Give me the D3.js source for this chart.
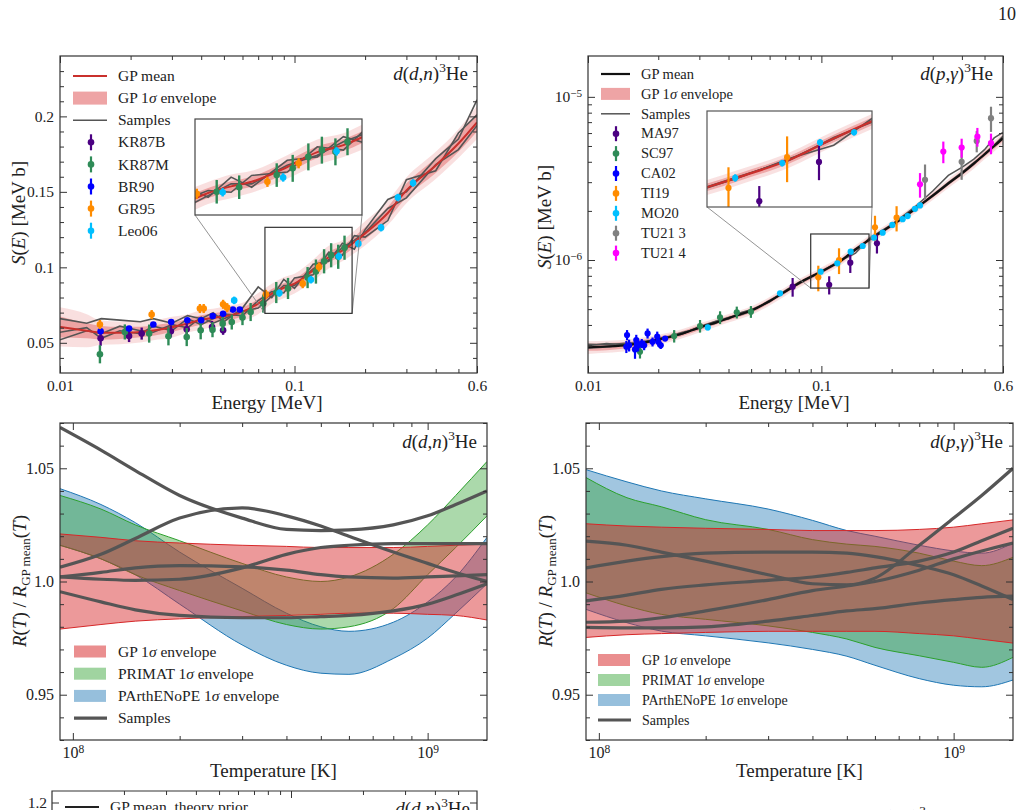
<!DOCTYPE html>
<html>
<head>
<meta charset="utf-8">
<script src="https://cdn.jsdelivr.net/npm/d3@7"></script>
<style>
  body { margin: 0; background: #fff; }
  svg { display: block; }
  svg text { font-family: 'Liberation Serif', 'DejaVu Serif', serif; }
</style>
</head>
<body>
<svg id="fig" width="1024" height="810"></svg>
<script>
// ---------- d(d,n)3He : S-factor [MeV b] vs energy [MeV] (top left) ----------
const ddnE = [0.01, 0.013, 0.015, 0.018, 0.022, 0.025, 0.03, 0.035, 0.04, 0.045, 0.05, 0.06, 0.07, 0.08, 0.09, 0.1, 0.12, 0.14, 0.16, 0.18, 0.2, 0.25, 0.3, 0.4, 0.5, 0.6];
const ddnMean = [0.0605, 0.058, 0.0567, 0.0566, 0.0572, 0.0582, 0.0603, 0.0628, 0.0652, 0.0665, 0.0675, 0.0705, 0.076, 0.0826, 0.0865, 0.0892, 0.098, 0.1068, 0.111, 0.1168, 0.1225, 0.136, 0.151, 0.1675, 0.182, 0.196];
const ddnInner = [0.007, 0.005, 0.0045, 0.004, 0.0035, 0.0035, 0.003, 0.003, 0.003, 0.003, 0.003, 0.003, 0.003, 0.003, 0.003, 0.003, 0.0035, 0.0035, 0.0035, 0.0035, 0.004, 0.004, 0.0045, 0.005, 0.0055, 0.006];
const ddnOuter = [0.013, 0.011, 0.008, 0.0075, 0.007, 0.0065, 0.007, 0.006, 0.0065, 0.006, 0.0065, 0.006, 0.007, 0.0065, 0.007, 0.0065, 0.007, 0.0075, 0.007, 0.0075, 0.008, 0.008, 0.0085, 0.009, 0.0095, 0.011];
const ddnSampA = [0.066, 0.063, 0.066, 0.065, 0.064, 0.066, 0.063, 0.068, 0.066, 0.070, 0.064, 0.073, 0.087, 0.080, 0.092, 0.086, 0.102, 0.104, 0.116, 0.112, 0.125, 0.145, 0.150, 0.172, 0.185, 0.211];
const ddnSampB = [0.057, 0.060, 0.053, 0.058, 0.056, 0.061, 0.058, 0.066, 0.062, 0.066, 0.069, 0.068, 0.078, 0.084, 0.083, 0.093, 0.095, 0.110, 0.108, 0.121, 0.120, 0.131, 0.158, 0.164, 0.189, 0.201];
const ddnSampC = [0.052, 0.058, 0.056, 0.061, 0.058, 0.057, 0.062, 0.060, 0.067, 0.063, 0.066, 0.071, 0.073, 0.081, 0.088, 0.088, 0.099, 0.105, 0.113, 0.118, 0.123, 0.139, 0.146, 0.168, 0.178, 0.194];

const kr87bE = [0.0149, 0.0197, 0.0223, 0.0297, 0.0347, 0.0445, 0.0496];
const kr87bS = [0.053, 0.0545, 0.0561, 0.0576, 0.059, 0.0605, 0.0583];
const kr87bErr = [0.005, 0.004, 0.004, 0.004, 0.004, 0.004, 0.003];
const kr87mE = [0.0148, 0.0189, 0.024, 0.029, 0.0347, 0.0398, 0.0447, 0.0494, 0.054, 0.060, 0.065, 0.0736, 0.0836, 0.0938, 0.1137, 0.1234, 0.1337, 0.1433, 0.1536, 0.1634];
const kr87mS = [0.0424, 0.0572, 0.0561, 0.0543, 0.0538, 0.0583, 0.0587, 0.0627, 0.0638, 0.0667, 0.0704, 0.076, 0.0833, 0.086, 0.0932, 0.0972, 0.104, 0.108, 0.107, 0.113];
const kr87mErr = [0.006, 0.005, 0.006, 0.006, 0.006, 0.006, 0.005, 0.005, 0.005, 0.005, 0.006, 0.006, 0.007, 0.007, 0.007, 0.008, 0.008, 0.008, 0.008, 0.008];
const br90E = [0.0149, 0.0197, 0.025, 0.0298, 0.0349, 0.04, 0.0448, 0.0496, 0.0546, 0.0584];
const br90S = [0.0576, 0.0594, 0.0621, 0.0638, 0.0649, 0.0649, 0.0678, 0.0693, 0.072, 0.072];
const br90Err = [0.0015, 0.0015, 0.0015, 0.0015, 0.0015, 0.0015, 0.0015, 0.0015, 0.0015, 0.0015];
const gr95E = [0.0148, 0.0246, 0.0395, 0.041, 0.0496, 0.0516, 0.0755, 0.1084, 0.1272];
const gr95S = [0.0621, 0.0687, 0.0727, 0.0727, 0.0755, 0.0733, 0.0821, 0.0892, 0.1002];
const gr95Err = [0.003, 0.003, 0.003, 0.003, 0.003, 0.003, 0.003, 0.003, 0.003];
const leo06E = [0.0553, 0.0862, 0.1175, 0.1545, 0.1872, 0.2339, 0.276, 0.3203];
const leo06S = [0.0781, 0.0830, 0.0918, 0.1073, 0.1157, 0.1263, 0.1462, 0.1559];
const leo06Err = [0.0025, 0.0025, 0.0025, 0.0025, 0.0025, 0.0025, 0.0025, 0.0025];

// ---------- d(p,g)3He : S-factor, values in units of 1e-7 MeV b (top right) ----------
const UNIT = 1e-7;
const dpgE = [0.01, 0.012, 0.015, 0.018, 0.02, 0.025, 0.03, 0.035, 0.04, 0.045, 0.05, 0.06, 0.07, 0.08, 0.1, 0.12, 0.14, 0.16, 0.2, 0.25, 0.3, 0.35, 0.4, 0.45, 0.5, 0.55, 0.6];
const dpgMean = [2.92, 2.95, 3.02, 3.15, 3.25, 3.52, 3.85, 4.12, 4.4, 4.65, 4.9, 5.6, 6.4, 7.2, 8.5, 9.8, 11.6, 13.3, 16.3, 20.4, 24.8, 29.5, 34.0, 39.0, 44.5, 50.0, 55.8];
const dpgInnerFrac = [0.05, 0.05, 0.045, 0.04, 0.04, 0.035, 0.035, 0.03, 0.03, 0.03, 0.03, 0.03, 0.03, 0.03, 0.03, 0.03, 0.03, 0.03, 0.03, 0.03, 0.03, 0.03, 0.03, 0.035, 0.035, 0.04, 0.04];
const dpgOuterFrac = [0.09, 0.085, 0.08, 0.075, 0.07, 0.065, 0.065, 0.06, 0.06, 0.06, 0.06, 0.06, 0.06, 0.06, 0.06, 0.06, 0.06, 0.06, 0.06, 0.06, 0.06, 0.065, 0.065, 0.07, 0.07, 0.075, 0.08];
const dpgSampA = [3.05, 3.02, 3.1, 3.12, 3.3, 3.5, 3.9, 4.2, 4.35, 4.75, 4.95, 5.55, 6.5, 7.3, 8.45, 9.9, 11.0, 13.6, 16.5, 21.0, 26.5, 33.0, 37.0, 41.5, 47.5, 56.0, 60.5];
const dpgSampB = [2.98, 3.08, 3.0, 3.2, 3.22, 3.58, 3.82, 4.18, 4.45, 4.6, 4.85, 5.65, 6.35, 7.25, 8.55, 9.75, 11.7, 13.2, 16.2, 20.3, 25.0, 29.8, 34.5, 39.5, 44.0, 50.5, 57.5];
const dpgSampC = [2.88, 2.93, 3.05, 3.13, 3.28, 3.5, 3.88, 4.08, 4.42, 4.7, 4.92, 5.58, 6.42, 7.15, 8.48, 9.85, 11.55, 13.35, 16.35, 20.5, 24.6, 29.3, 33.8, 38.8, 44.6, 49.7, 55.5];

const ma97E = [0.0753, 0.108, 0.133, 0.173];
const ma97S = [6.86, 7.05, 9.63, 12.66];
const ma97Err = [0.9, 0.9, 1.3, 1.7];
const sc97E = [0.0167, 0.0234, 0.0302, 0.0368, 0.0434, 0.0499];
const sc97S = [2.74, 3.42, 3.94, 4.45, 4.78, 4.82];
const sc97Err = [0.25, 0.3, 0.35, 0.4, 0.4, 0.4];
const ca02E = [0.0147, 0.0146, 0.0150, 0.0159, 0.0161, 0.0164, 0.0170, 0.0174, 0.0180, 0.0189, 0.0198, 0.0200, 0.0205, 0.0214];
const ca02S = [3.47, 2.94, 3.0, 2.83, 3.23, 3.0, 3.08, 3.0, 3.55, 3.15, 3.39, 3.15, 3.0, 3.3];
const ca02Err = [0.25, 0.25, 0.25, 0.35, 0.25, 0.25, 0.2, 0.2, 0.25, 0.2, 0.25, 0.2, 0.15, 0.1];
const ti19E = [0.097, 0.119, 0.1697, 0.21];
const ti19S = [7.83, 10.0, 15.87, 18.17];
const ti19Err = [1.4, 1.8, 2.8, 3.2];
const mo20E = [0.0326, 0.0665, 0.0993, 0.117, 0.1335, 0.1503, 0.168, 0.183, 0.2013, 0.2229, 0.2343, 0.2518, 0.2646];
const mo20S = [3.86, 6.25, 8.48, 9.54, 11.25, 12.19, 13.7, 14.7, 16.4, 17.8, 18.6, 20.6, 21.6];
const mo20Err = [0.15, 0.2, 0.25, 0.25, 0.3, 0.3, 0.3, 0.3, 0.35, 0.35, 0.4, 0.4, 0.4];
const tu213E = [0.278, 0.399, 0.463, 0.533];
const tu213S = [31, 40, 53.7, 74];
const tu213Err = [7.5, 9, 8, 13];
const tu214E = [0.2646, 0.333, 0.399, 0.466, 0.533];
const tu214S = [29.1, 46.2, 48.9, 57, 52];
const tu214Err = [5, 7, 6.5, 7.5, 7.5];

// ---------- rate ratios R(T)/R_GP mean(T) (middle row) ----------
const tempK = [9.2e7, 1.2e8, 1.5e8, 2e8, 3e8, 4e8, 5e8, 6e8, 8e8, 1e9, 1.2e9, 1.47e9];

const ddnGpHi = [1.021, 1.0195, 1.018, 1.017, 1.016, 1.0155, 1.015, 1.015, 1.015, 1.0155, 1.016, 1.0165];
const ddnGpLo = [0.979, 0.981, 0.9825, 0.9835, 0.9845, 0.985, 0.9855, 0.986, 0.986, 0.9855, 0.985, 0.983];
const ddnPrimatHi = [1.038, 1.032, 1.025, 1.018, 1.008, 1.002, 1.0, 1.002, 1.012, 1.025, 1.038, 1.053];
const ddnPrimatLo = [1.016, 1.010, 1.003, 0.996, 0.987, 0.981, 0.979, 0.980, 0.988, 1.003, 1.015, 1.029];
const ddnParthHi = [1.041, 1.034, 1.026, 1.013, 0.997, 0.986, 0.980, 0.978, 0.982, 0.991, 1.002, 1.0195];
const ddnParthLo = [1.016, 1.010, 1.003, 0.990, 0.972, 0.963, 0.9595, 0.959, 0.966, 0.975, 0.986, 0.999];
const ddnRatioSamples = [
  [1.068, 1.058, 1.049, 1.038, 1.028, 1.023, 1.0225, 1.0228, 1.025, 1.029, 1.034, 1.040],
  [1.0063, 1.012, 1.019, 1.028, 1.0325, 1.029, 1.0245, 1.020, 1.013, 1.008, 1.004, 1.0],
  [1.002, 1.004, 1.006, 1.007, 1.0065, 1.005, 1.003, 1.002, 1.0015, 1.002, 1.0025, 1.003],
  [1.002, 1.001, 1.0005, 1.001, 1.006, 1.012, 1.015, 1.016, 1.0167, 1.0167, 1.0167, 1.0167],
  [0.9955, 0.991, 0.9875, 0.985, 0.984, 0.984, 0.9845, 0.985, 0.987, 0.990, 0.994, 0.999]
];

const dpgGpHi = [1.0255, 1.0245, 1.024, 1.0235, 1.023, 1.0225, 1.0225, 1.0225, 1.023, 1.024, 1.0255, 1.0272];
const dpgGpLo = [0.9753, 0.9765, 0.977, 0.9775, 0.978, 0.978, 0.978, 0.978, 0.977, 0.976, 0.9745, 0.9728];
const dpgPrimatHi = [1.0459, 1.037, 1.033, 1.0273, 1.023, 1.0185, 1.0165, 1.0155, 1.0125, 1.009, 1.007, 1.0107];
const dpgPrimatLo = [0.995, 0.9892, 0.9855, 0.9833, 0.9804, 0.9775, 0.9746, 0.9709, 0.9672, 0.9643, 0.9621, 0.9665];
const dpgParthHi = [1.0494, 1.044, 1.040, 1.0365, 1.032, 1.027, 1.0225, 1.020, 1.016, 1.0135, 1.0125, 1.017];
const dpgParthLo = [0.9877, 0.9818, 0.9781, 0.976, 0.9729, 0.970, 0.967, 0.963, 0.9571, 0.9542, 0.9535, 0.9565];
const dpgRatioSamples = [
  [1.0178, 1.016, 1.013, 1.009, 1.003, 0.999, 0.9985, 1.0015, 1.016, 1.028, 1.038, 1.05],
  [1.006, 1.009, 1.011, 1.0125, 1.013, 1.013, 1.0125, 1.011, 1.007, 1.003, 0.998, 0.992],
  [0.9914, 0.994, 0.9965, 0.9985, 1.0005, 1.002, 1.004, 1.006, 1.009, 1.013, 1.018, 1.0235],
  [0.982, 0.9825, 0.984, 0.987, 0.992, 0.996, 0.998, 1.0, 1.005, 1.01, 1.0135, 1.017],
  [0.9797, 0.9795, 0.9795, 0.98, 0.9825, 0.985, 0.987, 0.988, 0.9905, 0.992, 0.993, 0.9935]
];

// ---------- styling ----------
const SERIF = "'Liberation Serif', 'DejaVu Serif', serif";
const INK = '#333';
const RED = '#d62728', GREEN = '#2ca02c', BLUE = '#1f77b4', GREY = '#555';

const svg = d3.select('#fig');
svg.append('rect').attr('width', 1024).attr('height', 810).attr('fill', '#fff');
const defs = svg.append('defs');

let clipN = 0;
function clipTo(r) {
  const id = `clip${clipN++}`;
  defs.append('clipPath').attr('id', id).append('rect')
    .attr('x', r.x).attr('y', r.y).attr('width', r.w).attr('height', r.h);
  return `url(#${id})`;
}

function drawTicks(g, x, y, o) {
  const [xl, xr] = x.range();
  const [yb, yt] = y.range();
  const axis = (gen, tx, ty) => {
    const a = g.append('g').attr('transform', `translate(${tx},${ty})`).call(gen);
    a.select('.domain').remove();
    a.attr('font-family', SERIF).attr('font-size', o.fs || 15.5).attr('color', INK);
    a.selectAll('text').attr('fill', '#222');
    return a;
  };
  const none = () => '';
  const bx = axis(d3.axisBottom(x).tickValues(o.xMajor).tickSizeInner(-7).tickSizeOuter(0).tickPadding(7).tickFormat(o.xFmt || none), 0, yb);
  axis(d3.axisBottom(x).tickValues(o.xMinor).tickSizeInner(-4).tickSizeOuter(0).tickFormat(none), 0, yb);
  axis(d3.axisTop(x).tickValues(o.xMajor).tickSizeInner(-7).tickSizeOuter(0).tickFormat(none), 0, yt);
  axis(d3.axisTop(x).tickValues(o.xMinor).tickSizeInner(-4).tickSizeOuter(0).tickFormat(none), 0, yt);
  const ly = axis(d3.axisLeft(y).tickValues(o.yMajor).tickSizeInner(-7).tickSizeOuter(0).tickPadding(6).tickFormat(o.yFmt || none), xl, 0);
  axis(d3.axisLeft(y).tickValues(o.yMinor).tickSizeInner(-4).tickSizeOuter(0).tickFormat(none), xl, 0);
  axis(d3.axisRight(y).tickValues(o.yMajor).tickSizeInner(-7).tickSizeOuter(0).tickFormat(none), xr, 0);
  axis(d3.axisRight(y).tickValues(o.yMinor).tickSizeInner(-4).tickSizeOuter(0).tickFormat(none), xr, 0);
  return { bx, ly };
}

function power10(axisG, expOf) {
  axisG.selectAll('.tick text').each(function (d) {
    const t = d3.select(this);
    t.text('');
    t.append('tspan').text('10');
    t.append('tspan').attr('dy', '-0.5em').attr('font-size', '0.72em').text(expOf(d));
  });
}

function frame(g, r, stroke, sw) {
  g.append('rect').attr('x', r.x).attr('y', r.y).attr('width', r.w).attr('height', r.h)
    .attr('fill', 'none').attr('stroke', stroke || INK).attr('stroke-width', sw || 1.2);
}

function reaction(xr, yb, a, b, size) {
  const t = svg.append('text').attr('x', xr).attr('y', yb).attr('text-anchor', 'end')
    .attr('font-size', size).attr('fill', '#222');
  t.append('tspan').attr('font-style', 'italic').text('d');
  t.append('tspan').text('(');
  t.append('tspan').attr('font-style', 'italic').text(a);
  t.append('tspan').text(',');
  t.append('tspan').attr('font-style', 'italic').text(b);
  t.append('tspan').text(')');
  t.append('tspan').attr('dy', -size * 0.4).attr('font-size', size * 0.7).text('3');
  t.append('tspan').attr('dy', size * 0.4).text('He');
}

function xLabel(cx, yb, txt) {
  svg.append('text').attr('x', cx).attr('y', yb).attr('text-anchor', 'middle')
    .attr('font-size', 19).attr('fill', '#222').text(txt);
}

function sLabel(xb, cy) {
  const t = svg.append('text').attr('transform', `translate(${xb},${cy}) rotate(-90)`)
    .attr('text-anchor', 'middle').attr('font-size', 19).attr('fill', '#222');
  t.append('tspan').attr('font-style', 'italic').text('S');
  t.append('tspan').text('(');
  t.append('tspan').attr('font-style', 'italic').text('E');
  t.append('tspan').text(') [MeV b]');
}

function ratioLabel(xb, cy) {
  const t = svg.append('text').attr('transform', `translate(${xb},${cy}) rotate(-90)`)
    .attr('text-anchor', 'middle').attr('font-size', 19).attr('fill', '#222');
  t.append('tspan').attr('font-style', 'italic').text('R');
  t.append('tspan').text('(');
  t.append('tspan').attr('font-style', 'italic').text('T');
  t.append('tspan').text(') / ');
  t.append('tspan').attr('font-style', 'italic').text('R');
  t.append('tspan').attr('font-size', 13).attr('dy', 4).text('GP mean');
  t.append('tspan').attr('dy', -4).text('(');
  t.append('tspan').attr('font-style', 'italic').text('T');
  t.append('tspan').text(')');
}

function errPoints(g, x, y, set, unit, sw, r) {
  const pts = set.E.map((e, i) => ({ e, s: set.S[i] * unit, d: set.err[i] * unit }));
  const gg = g.append('g');
  gg.selectAll('line').data(pts).join('line')
    .attr('x1', d => x(d.e)).attr('x2', d => x(d.e))
    .attr('y1', d => y(d.s - d.d)).attr('y2', d => y(d.s + d.d))
    .attr('stroke', set.color).attr('stroke-width', sw);
  gg.selectAll('circle').data(pts).join('circle')
    .attr('cx', d => x(d.e)).attr('cy', d => y(d.s)).attr('r', r)
    .attr('fill', set.color);
}

function legendLine(x0, x1, yc, color, w, label, tx, fs) {
  svg.append('line').attr('x1', x0).attr('x2', x1).attr('y1', yc).attr('y2', yc)
    .attr('stroke', color).attr('stroke-width', w);
  svg.append('text').attr('x', tx).attr('y', yc + fs * 0.33).attr('font-size', fs).attr('fill', '#222').text(label);
}
function legendPatch(x0, x1, yc, h, color, op, label, tx, fs) {
  svg.append('rect').attr('x', x0).attr('y', yc - h / 2).attr('width', x1 - x0).attr('height', h)
    .attr('fill', color).attr('fill-opacity', op);
  const t = svg.append('text').attr('x', tx).attr('y', yc + fs * 0.33).attr('font-size', fs).attr('fill', '#222');
  const parts = label.split('σ');
  t.append('tspan').text(parts[0]);
  if (parts.length > 1) {
    t.append('tspan').attr('font-style', 'italic').text('σ');
    t.append('tspan').text(parts[1]);
  }
}
function legendErr(cx, yc, half, color, label, tx, fs) {
  svg.append('line').attr('x1', cx).attr('x2', cx).attr('y1', yc - half).attr('y2', yc + half)
    .attr('stroke', color).attr('stroke-width', 2.2);
  svg.append('circle').attr('cx', cx).attr('cy', yc).attr('r', 3.3).attr('fill', color);
  svg.append('text').attr('x', tx).attr('y', yc + fs * 0.33).attr('font-size', fs).attr('fill', '#222').text(label);
}

function range(a, b, step) { return d3.range(a, b + step / 2, step).map(v => +v.toFixed(4)); }
const eMinor = [0.02, 0.03, 0.04, 0.05, 0.06, 0.07, 0.08, 0.09, 0.2, 0.3, 0.4, 0.5];
const eFmt = d => (d === 0.01 ? '0.01' : d === 0.1 ? '0.1' : '0.6');

// ================= Panel 1 : d(d,n)3He S-factor =================
const ddnSets = [
  { name: 'KR87B', color: 'indigo', E: kr87bE, S: kr87bS, err: kr87bErr },
  { name: 'KR87M', color: 'seagreen', E: kr87mE, S: kr87mS, err: kr87mErr },
  { name: 'BR90', color: 'blue', E: br90E, S: br90S, err: br90Err },
  { name: 'GR95', color: 'darkorange', E: gr95E, S: gr95S, err: gr95Err },
  { name: 'Leo06', color: 'deepskyblue', E: leo06E, S: leo06S, err: leo06Err }
];

function drawDdn(g, x, y) {
  const band = (hw, op) => g.append('path').datum(ddnE)
    .attr('d', d3.area().x(e => x(e))
      .y0((e, i) => y(ddnMean[i] - hw[i])).y1((e, i) => y(ddnMean[i] + hw[i]))
      .curve(d3.curveMonotoneX))
    .attr('fill', RED).attr('fill-opacity', op);
  band(ddnOuter, 0.15);
  band(ddnInner, 0.32);
  [ddnSampA, ddnSampB, ddnSampC].forEach(s => g.append('path').datum(s)
    .attr('d', d3.line().x((v, i) => x(ddnE[i])).y(v => y(v)))
    .attr('fill', 'none').attr('stroke', GREY).attr('stroke-width', 1.6));
  g.append('path').datum(ddnMean)
    .attr('d', d3.line().x((v, i) => x(ddnE[i])).y(v => y(v)).curve(d3.curveMonotoneX))
    .attr('fill', 'none').attr('stroke', '#c9302c').attr('stroke-width', 2);
  ddnSets.forEach(s => errPoints(g, x, y, s, 1, 2.4, 3.3));
}

const P1 = { x: 60, y: 56, w: 417, h: 317 };
const x1 = d3.scaleLog().domain([0.01, 0.6]).range([P1.x, P1.x + P1.w]);
const y1 = d3.scaleLinear().domain([0.03, 0.24]).range([P1.y + P1.h, P1.y]);
const g1 = svg.append('g').attr('clip-path', clipTo(P1));
drawDdn(g1, x1, y1);
drawTicks(svg.append('g'), x1, y1, {
  xMajor: [0.01, 0.1, 0.6], xMinor: eMinor, xFmt: eFmt,
  yMajor: [0.05, 0.1, 0.15, 0.2], yMinor: range(0.04, 0.23, 0.01).filter(v => ![0.05, 0.1, 0.15, 0.2].includes(v)),
  yFmt: d => (d === 0.1 ? '0.1' : d === 0.2 ? '0.2' : d3.format('.2f')(d))
});
frame(svg, P1);

// inset of panel 1
const I1 = { x: 195, y: 119, w: 167, h: 96 };
const zoom1E = [0.0748, 0.176], zoom1S = [0.0695, 0.1265];
const xi1 = d3.scaleLog().domain(zoom1E).range([I1.x, I1.x + I1.w]);
const yi1 = d3.scaleLinear().domain(zoom1S).range([I1.y + I1.h, I1.y]);
svg.append('line').attr('x1', I1.x).attr('y1', I1.y + I1.h).attr('x2', x1(zoom1E[0])).attr('y2', y1(zoom1S[0]))
  .attr('stroke', '#888').attr('stroke-width', 0.9);
svg.append('line').attr('x1', I1.x + I1.w).attr('y1', I1.y + I1.h).attr('x2', x1(zoom1E[1])).attr('y2', y1(zoom1S[0]))
  .attr('stroke', '#888').attr('stroke-width', 0.9);
svg.append('rect').attr('x', x1(zoom1E[0])).attr('y', y1(zoom1S[1]))
  .attr('width', x1(zoom1E[1]) - x1(zoom1E[0])).attr('height', y1(zoom1S[0]) - y1(zoom1S[1]))
  .attr('fill', 'none').attr('stroke', INK).attr('stroke-width', 1.2);
svg.append('rect').attr('x', I1.x).attr('y', I1.y).attr('width', I1.w).attr('height', I1.h).attr('fill', '#fff');
drawDdn(svg.append('g').attr('clip-path', clipTo(I1)), xi1, yi1);
frame(svg, I1, '#444', 1.2);

// legend panel 1
const L1 = 76, dL1 = 22.1, fs1 = 15.5;
legendLine(73, 107, L1, '#c9302c', 2, 'GP mean', 118, fs1);
legendPatch(73, 107, L1 + dL1, 13, RED, 0.42, 'GP 1σ envelope', 118, fs1);
legendLine(73, 107, L1 + 2 * dL1, GREY, 1.6, 'Samples', 118, fs1);
ddnSets.forEach((s, i) => legendErr(91, L1 + (3 + i) * dL1, 8, s.color, s.name, 118, fs1));
reaction(468, 80, 'd', 'n', 19);
xLabel(267, 409, 'Energy [MeV]');
sLabel(25, 213);

// ================= Panel 2 : d(p,g)3He S-factor =================
const dpgSets = [
  { name: 'MA97', color: 'indigo', E: ma97E, S: ma97S, err: ma97Err },
  { name: 'SC97', color: 'seagreen', E: sc97E, S: sc97S, err: sc97Err },
  { name: 'CA02', color: 'blue', E: ca02E, S: ca02S, err: ca02Err },
  { name: 'TI19', color: 'darkorange', E: ti19E, S: ti19S, err: ti19Err },
  { name: 'MO20', color: 'deepskyblue', E: mo20E, S: mo20S, err: mo20Err },
  { name: 'TU21 3', color: 'gray', E: tu213E, S: tu213S, err: tu213Err },
  { name: 'TU21 4', color: 'magenta', E: tu214E, S: tu214S, err: tu214Err }
];

function drawDpg(g, x, y, meanColor) {
  const band = (fr, op) => g.append('path').datum(dpgE)
    .attr('d', d3.area().x(e => x(e))
      .y0((e, i) => y(dpgMean[i] * (1 - fr[i]) * UNIT)).y1((e, i) => y(dpgMean[i] * (1 + fr[i]) * UNIT))
      .curve(d3.curveMonotoneX))
    .attr('fill', RED).attr('fill-opacity', op);
  band(dpgOuterFrac, 0.14);
  band(dpgInnerFrac, 0.3);
  [dpgSampA, dpgSampB, dpgSampC].forEach(s => g.append('path').datum(s)
    .attr('d', d3.line().x((v, i) => x(dpgE[i])).y(v => y(v * UNIT)))
    .attr('fill', 'none').attr('stroke', GREY).attr('stroke-width', 1.5));
  g.append('path').datum(dpgMean)
    .attr('d', d3.line().x((v, i) => x(dpgE[i])).y(v => y(v * UNIT)).curve(d3.curveMonotoneX))
    .attr('fill', 'none').attr('stroke', meanColor).attr('stroke-width', 2.2);
  dpgSets.forEach(s => errPoints(g, x, y, s, UNIT, 2.2, 3.1));
}

const P2 = { x: 588, y: 56, w: 415, h: 317 };
const x2 = d3.scaleLog().domain([0.01, 0.6]).range([P2.x, P2.x + P2.w]);
const y2 = d3.scaleLog().domain([2.03e-7, 1.78e-5]).range([P2.y + P2.h, P2.y]);
drawDpg(svg.append('g').attr('clip-path', clipTo(P2)), x2, y2, '#111');
const a2 = drawTicks(svg.append('g'), x2, y2, {
  xMajor: [0.01, 0.1, 0.6], xMinor: eMinor, xFmt: eFmt,
  yMajor: [1e-6, 1e-5],
  yMinor: [3e-7, 4e-7, 5e-7, 6e-7, 7e-7, 8e-7, 9e-7, 2e-6, 3e-6, 4e-6, 5e-6, 6e-6, 7e-6, 8e-6, 9e-6],
  yFmt: d => String(d)
});
power10(a2.ly, d => (d < 5e-6 ? '−6' : '−5'));
frame(svg, P2);

// inset of panel 2
const I2 = { x: 707, y: 111, w: 165, h: 96 };
const zoom2E = [0.09, 0.16], zoom2S = [6.73e-7, 1.444e-6];
const xi2 = d3.scaleLog().domain(zoom2E).range([I2.x, I2.x + I2.w]);
const yi2 = d3.scaleLog().domain(zoom2S).range([I2.y + I2.h, I2.y]);
svg.append('line').attr('x1', I2.x).attr('y1', I2.y + I2.h).attr('x2', x2(zoom2E[0])).attr('y2', y2(zoom2S[0]))
  .attr('stroke', '#888').attr('stroke-width', 0.9);
svg.append('line').attr('x1', I2.x + I2.w).attr('y1', I2.y + I2.h).attr('x2', x2(zoom2E[1])).attr('y2', y2(zoom2S[0]))
  .attr('stroke', '#888').attr('stroke-width', 0.9);
svg.append('rect').attr('x', x2(zoom2E[0])).attr('y', y2(zoom2S[1]))
  .attr('width', x2(zoom2E[1]) - x2(zoom2E[0])).attr('height', y2(zoom2S[0]) - y2(zoom2S[1]))
  .attr('fill', 'none').attr('stroke', INK).attr('stroke-width', 1.2);
svg.append('rect').attr('x', I2.x).attr('y', I2.y).attr('width', I2.w).attr('height', I2.h).attr('fill', '#fff');
drawDpg(svg.append('g').attr('clip-path', clipTo(I2)), xi2, yi2, '#c9302c');
frame(svg, I2, '#555', 1.2);

// legend panel 2
const L2 = 74, dL2 = 19.9, fs2 = 14.5;
legendLine(601, 630, L2, '#111', 2.2, 'GP mean', 641, fs2);
legendPatch(601, 630, L2 + dL2, 12, RED, 0.42, 'GP 1σ envelope', 641, fs2);
legendLine(601, 630, L2 + 2 * dL2, GREY, 1.5, 'Samples', 641, fs2);
dpgSets.forEach((s, i) => legendErr(616, L2 + (3 + i) * dL2, 7.5, s.color, s.name, 641, fs2));
reaction(993, 80, 'p', 'γ', 19);
xLabel(794, 409, 'Energy [MeV]');
sLabel(551, 217);

// ================= Panels 3 & 4 : rate ratios =================
function drawRatio(P, bands, samples, legendX, legendY, legendDY, fs, title, titleX) {
  const x = d3.scaleLog().domain([9.2e7, 1.47e9]).range([P.x, P.x + P.w]);
  const y = d3.scaleLinear().domain([0.93, 1.07]).range([P.y + P.h, P.y]);
  const g = svg.append('g').attr('clip-path', clipTo(P));
  bands.forEach(b => {
    g.append('path').datum(tempK)
      .attr('d', d3.area().x(t => x(t)).y0((t, i) => y(b.lo[i])).y1((t, i) => y(b.hi[i])).curve(d3.curveMonotoneX))
      .attr('fill', b.color).attr('fill-opacity', b.op);
    [b.lo, b.hi].forEach(edge => g.append('path').datum(edge)
      .attr('d', d3.line().x((v, i) => x(tempK[i])).y(v => y(v)).curve(d3.curveMonotoneX))
      .attr('fill', 'none').attr('stroke', b.color).attr('stroke-width', 1));
  });
  samples.forEach(s => g.append('path').datum(s)
    .attr('d', d3.line().x((v, i) => x(tempK[i])).y(v => y(v)).curve(d3.curveMonotoneX))
    .attr('fill', 'none').attr('stroke', GREY).attr('stroke-width', 3.2));
  const a = drawTicks(svg.append('g'), x, y, {
    xMajor: [1e8, 1e9], xMinor: [2e8, 3e8, 4e8, 5e8, 6e8, 7e8, 8e8, 9e8], xFmt: d => String(d),
    yMajor: [0.95, 1.0, 1.05], yMinor: range(0.93, 1.07, 0.01).filter(v => ![0.95, 1, 1.05].includes(v)),
    yFmt: d => (d === 1 ? '1.0' : d3.format('.2f')(d)), fs: 16
  });
  power10(a.bx, d => (d < 5e8 ? '8' : '9'));
  frame(svg, P);
  [...bands].reverse().forEach((b, i) =>
    legendPatch(legendX, legendX + 32, legendY + i * legendDY, 12, b.color, b.op + 0.05, b.label, legendX + 44, fs));
  legendLine(legendX, legendX + 33, legendY + 3 * legendDY, GREY, 3.2, 'Samples', legendX + 44, fs);
  reaction(titleX, P.y + 25, title[0], title[1], 19);
  xLabel(P.x + P.w / 2, 777, 'Temperature [K]');
  ratioLabel(P.x - 34, P.y + 158);
}

const P3 = { x: 60, y: 423, w: 427, h: 317 };
drawRatio(P3, [
  { label: 'PArthENoPE 1σ envelope', color: BLUE, op: 0.42, hi: ddnParthHi, lo: ddnParthLo },
  { label: 'PRIMAT 1σ envelope', color: GREEN, op: 0.4, hi: ddnPrimatHi, lo: ddnPrimatLo },
  { label: 'GP 1σ envelope', color: RED, op: 0.47, hi: ddnGpHi, lo: ddnGpLo }
], ddnRatioSamples, 74, 651.5, 22.2, 15.5, ['d', 'n'], 477);

const P4 = { x: 586, y: 423, w: 427, h: 317 };
drawRatio(P4, [
  { label: 'PArthENoPE 1σ envelope', color: BLUE, op: 0.42, hi: dpgParthHi, lo: dpgParthLo },
  { label: 'PRIMAT 1σ envelope', color: GREEN, op: 0.4, hi: dpgPrimatHi, lo: dpgPrimatLo },
  { label: 'GP 1σ envelope', color: RED, op: 0.47, hi: dpgGpHi, lo: dpgGpLo }
], dpgRatioSamples, 598, 660, 20, 14, ['p', 'γ'], 1003);

// ================= next row (cut off at the page edge) =================
const P5 = { x: 52, y: 791, w: 425 };
const x5 = d3.scaleLog().domain([0.01, 0.6]).range([P5.x, P5.x + P5.w]);
svg.append('path').attr('d', `M${P5.x},830V${P5.y}H${P5.x + P5.w}V830`)
  .attr('fill', 'none').attr('stroke', INK).attr('stroke-width', 1.2);
const top5 = svg.append('g').attr('transform', `translate(0,${P5.y})`).attr('color', INK);
top5.call(d3.axisTop(x5).tickValues([0.1]).tickSizeInner(-7).tickSizeOuter(0).tickFormat(''));
top5.append('g').call(d3.axisTop(x5).tickValues(eMinor).tickSizeInner(-4).tickSizeOuter(0).tickFormat(''));
top5.selectAll('.domain').remove();
svg.append('line').attr('x1', P5.x).attr('x2', P5.x + 7).attr('y1', 803).attr('y2', 803).attr('stroke', INK);
svg.append('line').attr('x1', P5.x + P5.w - 7).attr('x2', P5.x + P5.w).attr('y1', 803).attr('y2', 803).attr('stroke', INK);
svg.append('text').attr('x', 47).attr('y', 808).attr('text-anchor', 'end').attr('font-size', 15.5).attr('fill', '#222').text('1.2');
legendLine(65, 99, 807, '#222', 1.8, 'GP mean, theory prior', 110, 15.5);
reaction(470, 815, 'd', 'n', 19);
reaction(948, 823, 'p', 'γ', 19);

// page number
svg.append('text').attr('x', 1016).attr('y', 20).attr('text-anchor', 'end')
  .attr('font-size', 18).attr('fill', '#222').text('10');
</script>
</body>
</html>
